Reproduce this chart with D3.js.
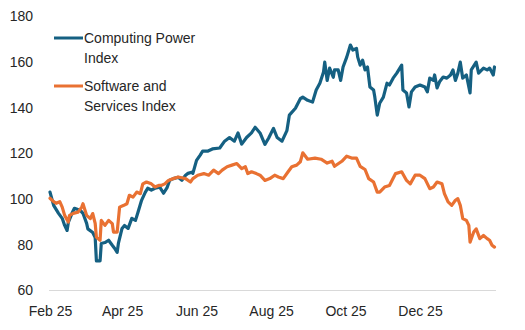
<!DOCTYPE html>
<html>
<head>
<meta charset="utf-8">
<script src="https://cdn.jsdelivr.net/npm/d3@7"></script>
<style>
  html, body { margin: 0; padding: 0; background: #fff; }
  svg { display: block; font-family: "Liberation Sans", Arial, sans-serif; }
</style>
</head>
<body>
<svg id="chart" width="525" height="330"></svg>
<script>
// Computing Power Index: observation dates and index levels
const computingDates = [
  "2025-02-01","2025-02-04","2025-02-08","2025-02-11","2025-02-13","2025-02-15","2025-02-16","2025-02-19","2025-02-21","2025-02-26",
  "2025-02-28","2025-03-03","2025-03-04","2025-03-08","2025-03-10","2025-03-11","2025-03-14","2025-03-15","2025-03-18","2025-03-21",
  "2025-03-24","2025-03-26","2025-03-28","2025-03-29","2025-04-01","2025-04-03","2025-04-06","2025-04-09","2025-04-12","2025-04-14",
  "2025-04-17","2025-04-20","2025-04-22","2025-04-25","2025-04-28","2025-05-02","2025-05-05","2025-05-08","2025-05-10","2025-05-13",
  "2025-05-17","2025-05-20","2025-05-23","2025-05-25","2025-05-28","2025-05-29","2025-06-01","2025-06-04","2025-06-06","2025-06-10",
  "2025-06-14","2025-06-20","2025-06-24","2025-06-28","2025-07-02","2025-07-05","2025-07-08","2025-07-12","2025-07-16","2025-07-19",
  "2025-07-23","2025-07-27","2025-07-30","2025-08-03","2025-08-06","2025-08-10","2025-08-14","2025-08-16","2025-08-21","2025-08-25",
  "2025-08-27","2025-08-31","2025-09-04","2025-09-07","2025-09-10","2025-09-13","2025-09-14","2025-09-16","2025-09-18","2025-09-21",
  "2025-09-22","2025-09-25","2025-09-27","2025-09-29","2025-10-02","2025-10-05","2025-10-07","2025-10-10","2025-10-11","2025-10-13",
  "2025-10-15","2025-10-17","2025-10-19","2025-10-21","2025-10-24","2025-10-25","2025-10-27","2025-10-29","2025-11-01","2025-11-04",
  "2025-11-06","2025-11-09","2025-11-12","2025-11-16","2025-11-17","2025-11-20","2025-11-22","2025-11-24","2025-11-27","2025-12-01",
  "2025-12-05","2025-12-07","2025-12-09","2025-12-12","2025-12-13","2025-12-15","2025-12-17","2025-12-20","2025-12-23","2025-12-26",
  "2025-12-28","2025-12-30","2026-01-01","2026-01-03","2026-01-05","2026-01-08","2026-01-11","2026-01-12","2026-01-16","2026-01-18",
  "2026-01-22","2026-01-25","2026-01-27","2026-01-30","2026-01-31"
];
const computingValues = [
  103.1, 97.3, 93.8, 91.6, 88.5, 86.3, 89.8, 93.8, 96.0, 95.0,
  93.8, 89.4, 87.0, 85.4, 83.2, 73.0, 73.0, 80.6, 81.0, 82.0,
  79.8, 78.4, 76.7, 80.6, 87.2, 88.5, 87.2, 91.6, 90.7, 94.2,
  99.5, 103.0, 104.8, 104.0, 104.8, 105.2, 102.6, 105.2, 108.3, 109.0,
  109.6, 108.3, 110.5, 111.3, 111.8, 111.3, 117.0, 119.3, 121.0, 121.0,
  122.0, 122.4, 125.4, 127.0, 125.4, 129.0, 124.1, 127.0, 129.0, 131.5,
  129.0, 124.0, 126.7, 131.0, 127.0, 125.4, 130.0, 136.8, 139.8, 144.0,
  144.7, 143.3, 142.5, 147.8, 150.8, 155.7, 160.0, 152.0, 157.4, 153.4,
  156.6, 156.6, 152.0, 157.9, 162.2, 167.5, 165.3, 166.0, 162.2, 158.7,
  160.9, 156.6, 157.9, 149.1, 147.8, 144.7, 136.8, 142.0, 144.7, 150.8,
  150.0, 153.0, 155.2, 158.7, 147.8, 146.5, 140.4, 147.0, 149.1, 150.0,
  149.1, 147.0, 153.0, 152.0, 154.4, 148.7, 151.4, 153.5, 153.0, 154.4,
  156.6, 152.0, 155.2, 160.0, 153.0, 154.4, 146.5, 156.6, 160.0, 155.2,
  157.4, 156.6, 157.4, 154.4, 157.9
];

// Software and Services Index: observation dates and index levels
const softwareDates = [
  "2025-02-01","2025-02-04","2025-02-06","2025-02-09","2025-02-11","2025-02-13","2025-02-16","2025-02-17","2025-02-20","2025-02-24",
  "2025-02-27","2025-02-28","2025-03-03","2025-03-06","2025-03-08","2025-03-10","2025-03-11","2025-03-14","2025-03-15","2025-03-18",
  "2025-03-21","2025-03-24","2025-03-25","2025-03-28","2025-03-30","2025-04-02","2025-04-05","2025-04-07","2025-04-10","2025-04-13",
  "2025-04-16","2025-04-18","2025-04-21","2025-04-25","2025-04-28","2025-05-01","2025-05-03","2025-05-06","2025-05-09","2025-05-13",
  "2025-05-17","2025-05-23","2025-05-27","2025-05-29","2025-06-02","2025-06-07","2025-06-11","2025-06-15","2025-06-19","2025-06-22",
  "2025-06-26","2025-06-30","2025-07-04","2025-07-08","2025-07-11","2025-07-13","2025-07-16","2025-07-20","2025-07-23","2025-07-27",
  "2025-07-31","2025-08-04","2025-08-07","2025-08-11","2025-08-15","2025-08-18","2025-08-22","2025-08-25","2025-08-27","2025-08-31",
  "2025-09-06","2025-09-11","2025-09-16","2025-09-20","2025-09-22","2025-09-28","2025-10-02","2025-10-06","2025-10-10","2025-10-13",
  "2025-10-17","2025-10-20","2025-10-24","2025-10-27","2025-10-29","2025-11-02","2025-11-06","2025-11-11","2025-11-16","2025-11-20",
  "2025-11-23","2025-11-27","2025-12-01","2025-12-05","2025-12-09","2025-12-12","2025-12-15","2025-12-19","2025-12-21","2025-12-24",
  "2025-12-27","2025-12-30","2026-01-01","2026-01-03","2026-01-05","2026-01-08","2026-01-10","2026-01-11","2026-01-14","2026-01-16",
  "2026-01-19","2026-01-22","2026-01-25","2026-01-27","2026-01-29","2026-01-31"
];
const softwareValues = [
  100.4, 98.9, 98.2, 98.9, 96.5, 92.9, 90.0, 92.9, 93.8, 94.3,
  96.5, 98.0, 92.9, 91.5, 93.7, 89.4, 83.4, 82.0, 90.7, 88.5,
  90.7, 89.3, 85.6, 85.6, 96.5, 97.2, 98.0, 101.7, 100.9, 103.1,
  102.4, 106.7, 107.5, 106.7, 105.3, 106.0, 106.0, 106.7, 108.2, 109.0,
  109.7, 109.0, 107.5, 109.0, 110.5, 111.2, 110.5, 112.7, 111.2, 112.7,
  114.2, 114.9, 115.6, 113.4, 114.2, 111.2, 112.0, 111.2, 110.5, 108.2,
  109.0, 110.5, 109.7, 109.0, 112.0, 114.2, 114.9, 116.4, 120.3, 117.5,
  118.0, 117.5, 115.8, 116.6, 114.4, 116.6, 118.8, 118.0, 118.0, 114.4,
  113.0, 109.0, 107.5, 103.1, 103.1, 105.3, 106.0, 111.2, 112.0, 108.2,
  106.7, 110.5, 110.5, 109.0, 104.6, 105.3, 107.5, 106.7, 102.4, 98.8,
  97.3, 99.5, 100.2, 97.3, 91.5, 90.7, 88.5, 81.2, 85.6, 87.0,
  82.7, 84.1, 82.7, 82.0, 79.8, 79.0
];

const seriesNames = ["Computing Power Index", "Software and Services Index"];
const seriesColors = ["#156082", "#E97132"];
const legendLines = [["Computing Power", "Index"], ["Software and", "Services Index"]];
const yTicks = [60, 80, 100, 120, 140, 160, 180];
const xTickDates = ["2025-02-01", "2025-04-01", "2025-06-01", "2025-08-01", "2025-10-01", "2025-12-01"];

const parse = d3.utcParse("%Y-%m-%d");
const series = [
  computingDates.map((d, i) => ({ date: parse(d), value: computingValues[i] })),
  softwareDates.map((d, i) => ({ date: parse(d), value: softwareValues[i] }))
];

const svg = d3.select("#chart");
const textColor = "#262626";

const x = d3.scaleUtc()
  .domain([parse("2025-02-01"), parse("2026-02-01")])
  .range([50, 495.7]);
const y = d3.scaleLinear().domain([60, 180]).range([290.5, 16.5]);

// baseline of the plot area
svg.append("line")
  .attr("x1", 49).attr("x2", 496)
  .attr("y1", y(60)).attr("y2", y(60))
  .attr("stroke", "#d9d9d9").attr("stroke-width", 1);

// value axis labels
const yAxis = d3.axisLeft(y).tickValues(yTicks).tickSize(0).tickPadding(0);
svg.append("g")
  .attr("transform", "translate(33,0)")
  .call(yAxis)
  .call(g => g.select(".domain").remove())
  .call(g => g.selectAll("text")
    .attr("fill", textColor)
    .style("font-size", "14px")
    .style("font-family", "'Liberation Sans', Arial, sans-serif"));

// date axis labels
const xAxis = d3.axisBottom(x)
  .tickValues(xTickDates.map(parse))
  .tickFormat(d3.utcFormat("%b %y"))
  .tickSize(0).tickPadding(0);
svg.append("g")
  .attr("transform", "translate(0,306.5)")
  .call(xAxis)
  .call(g => g.select(".domain").remove())
  .call(g => g.selectAll("text")
    .attr("fill", textColor)
    .style("font-size", "14px")
    .style("font-family", "'Liberation Sans', Arial, sans-serif"));

// index lines
const line = d3.line().x(d => x(d.date)).y(d => y(d.value));
series.forEach((s, i) => {
  svg.append("path")
    .datum(s)
    .attr("fill", "none")
    .attr("stroke", seriesColors[i])
    .attr("stroke-width", 3.2)
    .attr("stroke-linejoin", "round")
    .attr("stroke-linecap", "round")
    .attr("d", line)
    .append("title").text(seriesNames[i]);
});

// legend
const legendTop = [38, 86];
legendLines.forEach((lines, i) => {
  const g = svg.append("g").attr("transform", `translate(0,${legendTop[i]})`);
  g.append("line")
    .attr("x1", 54).attr("x2", 83)
    .attr("y1", 0).attr("y2", 0)
    .attr("stroke", seriesColors[i]).attr("stroke-width", 3);
  lines.forEach((t, j) => {
    g.append("text")
      .attr("x", 84).attr("y", 5 + j * 19.5)
      .attr("fill", textColor)
      .style("font-size", "14px")
      .text(t);
  });
});
</script>
</body>
</html>
